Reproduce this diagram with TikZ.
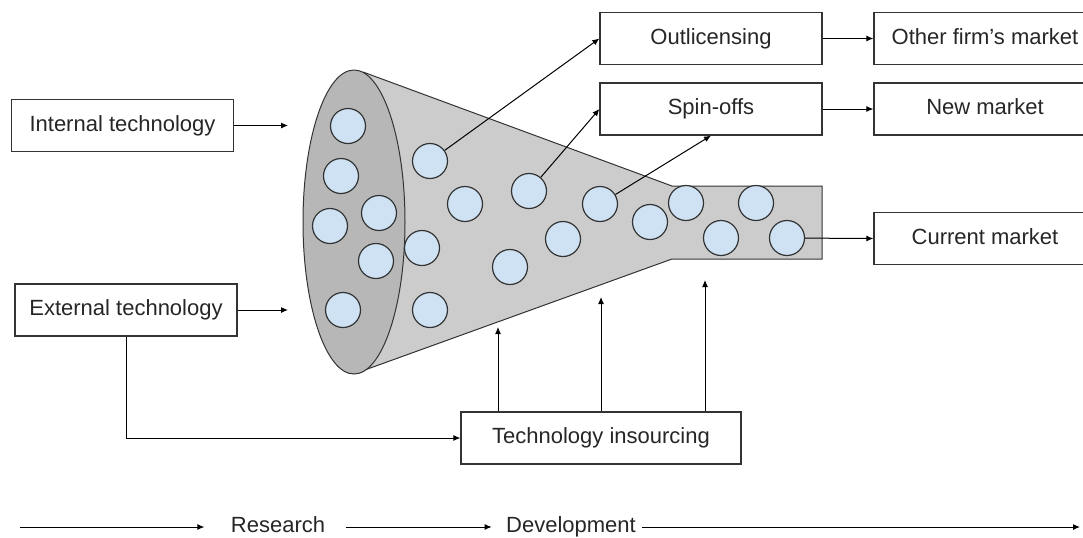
\documentclass[tikz,border=0pt]{standalone}
\usepackage{fontspec}
\setmainfont{Liberation Sans}
\usepackage{tikz}
\usetikzlibrary{arrows.meta,positioning}

\definecolor{conegray}{HTML}{CCCCCC}
\definecolor{mouthgray}{HTML}{B7B7B7}
\definecolor{ballblue}{HTML}{CFE2F3}
\definecolor{linegray}{HTML}{333333}

\tikzstyle{box}  =
[
	draw=linegray,rectangle,line width=0.6pt,inner sep=0pt,
	minimum width=111pt, minimum height=26pt, text=black!85,
	text height=8pt, text depth=2.3pt
]
\tikzstyle{widebox} =
[
	box, minimum width=140pt
]
\tikzstyle{ball} =
[
	draw=linegray,circle,line width=0.6pt,inner sep=0pt,
	minimum size=17.5pt, fill=ballblue
]
\tikzstyle{stage} = [inner sep=0pt, text=black!85, text height=8pt, text depth=2.3pt]

\begin{document}
\begin{tikzpicture}[x=0.5pt,y=-0.5pt,>={Latex[length=3.5pt,width=3pt]},line width=0.5pt,
                    font=\fontsize{11}{13}\selectfont]

\useasboundingbox (0,0) rectangle (1083,537);
\clip (0,0) rectangle (1083,537);

% funnel body, then its mouth on top
\fill[conegray] (363,72) -- (672,186) -- (822,186) -- (822,259) -- (672,259) -- (362,371) -- cycle;
\draw[linegray] (363,72) -- (672,186) -- (822,186) -- (822,259) -- (672,259) -- (362,371);
\draw[linegray, fill=mouthgray] (354,222) ellipse [x radius=51, y radius=152];

% ideas in the mouth
\node[ball] (B1) at (348,126) {};
\node[ball] (B2) at (341,176) {};
\node[ball] (B3) at (330,226) {};
\node[ball] (B4) at (379,213) {};
\node[ball] (B5) at (376,261) {};
\node[ball] (B6) at (343,310) {};
% ideas in the cone
\node[ball] (B7) at (430,161) {};
\node[ball] (B8) at (465,204) {};
\node[ball] (B9) at (422,248) {};
\node[ball] (B10) at (430,310) {};
\node[ball] (B11) at (529,191) {};
\node[ball] (B12) at (510,267) {};
\node[ball] (B13) at (563,239) {};
\node[ball] (B14) at (600,204) {};
\node[ball] (B15) at (650,222) {};
% ideas in the neck
\node[ball] (B16) at (686,203) {};
\node[ball] (B17) at (756,203) {};
\node[ball] (B18) at (721,238) {};
\node[ball] (B19) at (787,238) {};

\node[box] (In) at (122.5,125.5) {Internal technology};
\node[box] (Ex) at (126,310) {External technology};
\node[box] (Out) at (711,38.5) {Outlicensing};
\node[box] (Spin) at (711,109) {Spin-offs};
\node[box] (Other) at (985,38.5) {Other firm’s market};
\node[box] (New) at (985,109) {New market};
\node[box] (Cur) at (985,238.5) {Current market};
\node[widebox] (Ins) at (601,438) {Technology insourcing};

\coordinate (InTip) at (288,125.5);
\coordinate (ExTip) at (288,310);
\coordinate (T1) at (498,327);
\coordinate (T2) at (601,297);
\coordinate (T3) at (705,280);

\path[->]
	(In) edge (InTip)
	(Ex) edge (ExTip)
	(B7) edge (Out.west)
	(B11) edge (Spin.west)
	(B14) edge (Spin.south)
	(B19) edge (Cur.west)
	(Out) edge (Other)
	(Spin) edge (New);

\draw[->] (Ex.south) |- (Ins.west);
\draw[->] (Ins.north -| T1) -- (T1);
\draw[->] (Ins.north -| T2) -- (T2);
\draw[->] (Ins.north -| T3) -- (T3);

% research and development along the bottom
\node[stage] (Res) at (278,527) {Research};
\node[stage] (Dev) at (571,527) {Development};
\coordinate (TL0) at (20,527);
\coordinate (TL1) at (1080,527);

\draw[->] (TL0) -- ([xshift=-13pt]Res.west);
\draw[->] ([xshift=10pt]Res.east) -- ([xshift=-7pt]Dev.west);
\draw[->] ([xshift=3pt]Dev.east) -- (TL1);

\end{tikzpicture}
\end{document}
